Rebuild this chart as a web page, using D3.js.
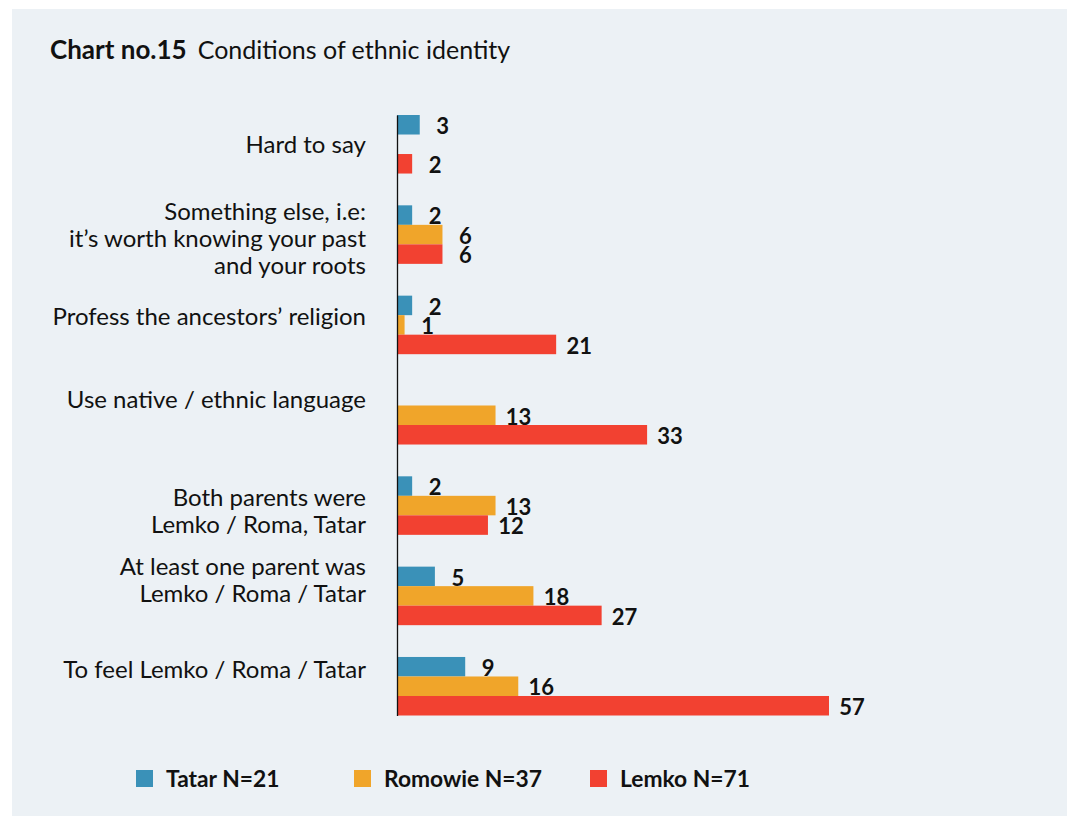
<!DOCTYPE html>
<html>
<head>
<meta charset="utf-8">
<script src="https://cdn.jsdelivr.net/npm/d3@7"></script>
<style>
  html, body { margin: 0; padding: 0; background: #ffffff; }
  svg { display: block; }
  text { font-family: Lato, "Open Sans", sans-serif; fill: #111; }
</style>
</head>
<body>
<svg id="chart" width="1067" height="816"></svg>
<script>
// Answer categories, top to bottom
const categories = [
  "Hard to say",
  "Something else, i.e:\nit’s worth knowing your past\nand your roots",
  "Profess the ancestors’ religion",
  "Use native / ethnic language",
  "Both parents were\nLemko / Roma, Tatar",
  "At least one parent was\nLemko / Roma / Tatar",
  "To feel Lemko / Roma / Tatar"
];

// Group names and legend labels
const series = ["Tatar", "Romowie", "Lemko"];
const legendLabels = ["Tatar N=21", "Romowie N=37", "Lemko N=71"];

// Percent answering, per group (null = no answer given)
const tatarValues   = [3, 2, 2, null, 2, 5, 9];
const romowieValues = [null, 6, 1, 13, 13, 18, 16];
const lemkoValues   = [2, 6, 21, 33, 12, 27, 57];

const valuesBySeries = [tatarValues, romowieValues, lemkoValues];
const colors = ["#3a91b8", "#f0a52a", "#f24131"];

// Baseline of each category label's first line, relative to its group top
const labelBaseline = [38, 15, 29, 22, 30, 8, 21];
const legendX = [136, 354, 590];

const svg = d3.select("#chart");

// Panel background
svg.append("rect")
  .attr("x", 12).attr("y", 9)
  .attr("width", 1067 - 12).attr("height", 816 - 9)
  .attr("fill", "#ecf1f5");

// Title
const title = svg.append("text")
  .attr("x", 50).attr("y", 59);
title.append("tspan").style("font-weight", "700").style("font-size", "26px").text("Chart no.15");
title.append("tspan").attr("dx", 11).style("font-weight", "400").style("font-size", "25px")
  .text("Conditions of ethnic identity");

// Scales
const x = d3.scaleLinear().domain([0, 57]).range([397, 829]);
const y = d3.scaleBand().domain(categories).range([115, 715.5])
  .paddingInner(0.352).paddingOuter(0).align(0);
const ySub = d3.scaleBand().domain(series).range([0, y.bandwidth()]).padding(0);

// Bars
const rows = [];
categories.forEach((c, i) => {
  series.forEach((s, j) => {
    const v = valuesBySeries[j][i];
    if (v != null) rows.push({ category: c, series: s, value: v, color: colors[j] });
  });
});

svg.append("g").selectAll("rect")
  .data(rows)
  .join("rect")
  .attr("x", x(0))
  .attr("y", d => y(d.category) + ySub(d.series))
  .attr("width", d => x(d.value) - x(0))
  .attr("height", ySub.bandwidth())
  .attr("fill", d => d.color);

// Vertical axis line
const axis = svg.append("g")
  .attr("transform", `translate(${x(0)},0)`)
  .call(d3.axisLeft(y).tickSize(0).tickSizeOuter(0).tickFormat(""));
axis.select(".domain").attr("stroke", "#111").attr("stroke-width", 1.3);
axis.selectAll(".tick").remove();

// Value labels
svg.append("g").selectAll("text")
  .data(rows)
  .join("text")
  .attr("x", d => x(d.value) + 23)
  .attr("y", d => y(d.category) + ySub(d.series) + ySub.bandwidth() - 0.5)
  .attr("text-anchor", "middle")
  .style("font-size", "22px")
  .style("font-weight", "700")
  .text(d => d.value);

// Category labels
svg.append("g").selectAll("text")
  .data(categories)
  .join("text")
  .attr("text-anchor", "end")
  .style("font-size", "24px")
  .attr("transform", (d, i) => `translate(366,${y(d) + labelBaseline[i]})`)
  .each(function (d) {
    d3.select(this).selectAll("tspan")
      .data(d.split("\n"))
      .join("tspan")
      .attr("x", 0)
      .attr("y", (line, k) => k * 27)
      .text(line => line);
  });

// Legend
const legend = svg.append("g").selectAll("g")
  .data(series)
  .join("g")
  .attr("transform", (d, i) => `translate(${legendX[i]},770)`);
legend.append("rect")
  .attr("width", 17).attr("height", 17)
  .attr("fill", (d, i) => colors[i]);
legend.append("text")
  .attr("x", 30).attr("y", 16.5)
  .style("font-size", "22.8px")
  .style("font-weight", "700")
  .text((d, i) => legendLabels[i]);
</script>
</body>
</html>
